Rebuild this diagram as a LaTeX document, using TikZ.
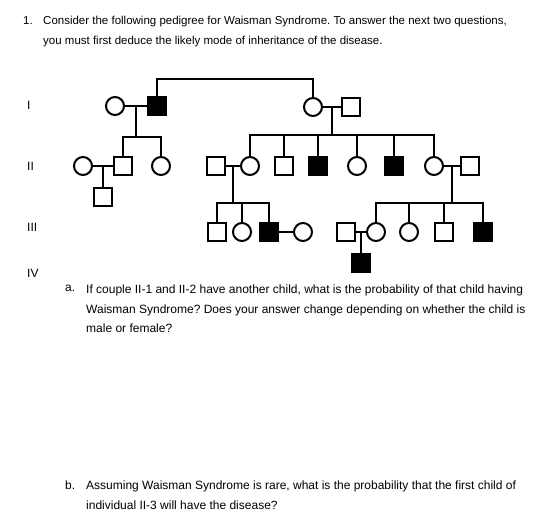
\documentclass[tikz,border=0pt]{standalone}
\usepackage{fontspec}
\setmainfont{Liberation Sans}
\frenchspacing
\usetikzlibrary{calc}
\tikzset{
  male/.style={draw, rectangle, minimum size=18pt, inner sep=0pt, line width=2pt},
  female/.style={draw, circle, minimum size=18pt, inner sep=0pt, line width=2pt},
  sick/.style={fill=black},
  tie/.style={line width=2pt},
  gen/.style={anchor=west, inner sep=0pt, font=\fontsize{12}{13}\selectfont},
  para/.style={anchor=north west, inner sep=0pt, align=left, font=\fontsize{11.5}{20}\selectfont},
  parb/.style={anchor=north west, inner sep=0pt, align=left, font=\fontsize{12}{19.5}\selectfont},
}
\begin{document}
\begin{tikzpicture}[x=1pt,y=-1pt]
\useasboundingbox (0,0) rectangle (555,527);
% question text
\node[para] (n1) at (23,16) {1.};
\node[para] (q1) at (43,16) {Consider the following pedigree for Waisman Syndrome. To answer the next two questions,\\
you must first deduce the likely mode of inheritance of the disease.};
% generations
\node[gen] (gI) at (27,105) {I};
\node[gen] (gII) at (27,166) {II};
\node[gen] (gIII) at (27,227) {III};
\node[gen] (gIV) at (27,273) {IV};
% generation I
\node[female] (iA) at (115,106) {};
\node[male,sick] (iB) at (157,106) {};
\node[female] (iC) at (313,107) {};
\node[male] (iD) at (351,107) {};
% generation II
\node[female] (iiA) at (83,166) {};
\node[male] (iiB) at (123,166) {};
\node[female] (iiC) at (161,166) {};
\node[male] (iiD) at (216,166) {};
\node[female] (iiE) at (250,166) {};
\node[male] (iiF) at (284,166) {};
\node[male,sick] (iiG) at (318,166) {};
\node[female] (iiH) at (357,166) {};
\node[male,sick] (iiI) at (394,166) {};
\node[female] (iiJ) at (434,166) {};
\node[male] (iiK) at (470,166) {};
% generation III
\node[male] (iiiA) at (103,197) {};
\node[male] (iiiB) at (217,232) {};
\node[female] (iiiC) at (242,232) {};
\node[male,sick] (iiiD) at (269,232) {};
\node[female] (iiiE) at (303,232) {};
\node[male] (iiiF) at (346,232) {};
\node[female] (iiiG) at (376,232) {};
\node[female] (iiiH) at (409,232) {};
\node[male] (iiiI) at (444,232) {};
\node[male,sick] (iiiJ) at (483,232) {};
% generation IV
\node[male,sick] (ivA) at (361,263) {};
% marriages
\draw[tie] (iA) -- (iB);
\draw[tie] (iC) -- (iD);
\draw[tie] (iiA) -- (iiB);
\draw[tie] (iiD) -- (iiE);
\draw[tie] (iiJ) -- (iiK);
\draw[tie] (iiiD) -- (iiiE);
\draw[tie] (iiiF) -- (iiiG);
\coordinate (top) at (235,79);
\draw[tie] (iB.north) |- (top) -| (iC.north);
% descent lines
\coordinate (mA) at ($(iA.east)!0.5!(iB.west)$);
\coordinate (bA) at ($(mA)+(0,31)$);
\draw[tie] (mA) -- (bA);
\draw[tie] (iiB.north) |- (bA);
\draw[tie] (iiC.north) |- (bA);
\coordinate (mB) at ($(iC.east)!0.5!(iD.west)$);
\coordinate (bB) at ($(mB)+(0,28)$);
\draw[tie] (mB) -- (bB);
\foreach \k in {iiE,iiF,iiG,iiH,iiI,iiJ} \draw[tie] (\k.north) |- (bB);
\coordinate (mC) at ($(iiA.east)!0.5!(iiB.west)$);
\draw[tie] (mC) -- (mC |- iiiA.north);
\coordinate (mD) at ($(iiD.east)!0.5!(iiE.west)$);
\coordinate (bD) at ($(mD)+(0,37)$);
\draw[tie] (mD) -- (bD);
\foreach \k in {iiiB,iiiC,iiiD} \draw[tie] (\k.north) |- (bD);
\coordinate (mE) at ($(iiJ.east)!0.5!(iiK.west)$);
\coordinate (bE) at ($(mE)+(0,37)$);
\draw[tie] (mE) -- (bE);
\foreach \k in {iiiG,iiiH,iiiI,iiiJ} \draw[tie] (\k.north) |- (bE);
\coordinate (mF) at ($(iiiF.east)!0.5!(iiiG.west)$);
\draw[tie] (mF) -- (mF |- ivA.north);
% questions
\node[parb] (na) at (65,285) {a.};
\node[parb] (qa) at (86,285) {If couple II-1 and II-2 have another child, what is the probability of that child having\\
Waisman Syndrome? Does your answer change depending on whether the child is\\
male or female?};
\node[parb] (nb) at (65,481) {b.};
\node[parb] (qb) at (86,481) {Assuming Waisman Syndrome is rare, what is the probability that the first child of\\
individual II-3 will have the disease?};
\end{tikzpicture}
\end{document}
